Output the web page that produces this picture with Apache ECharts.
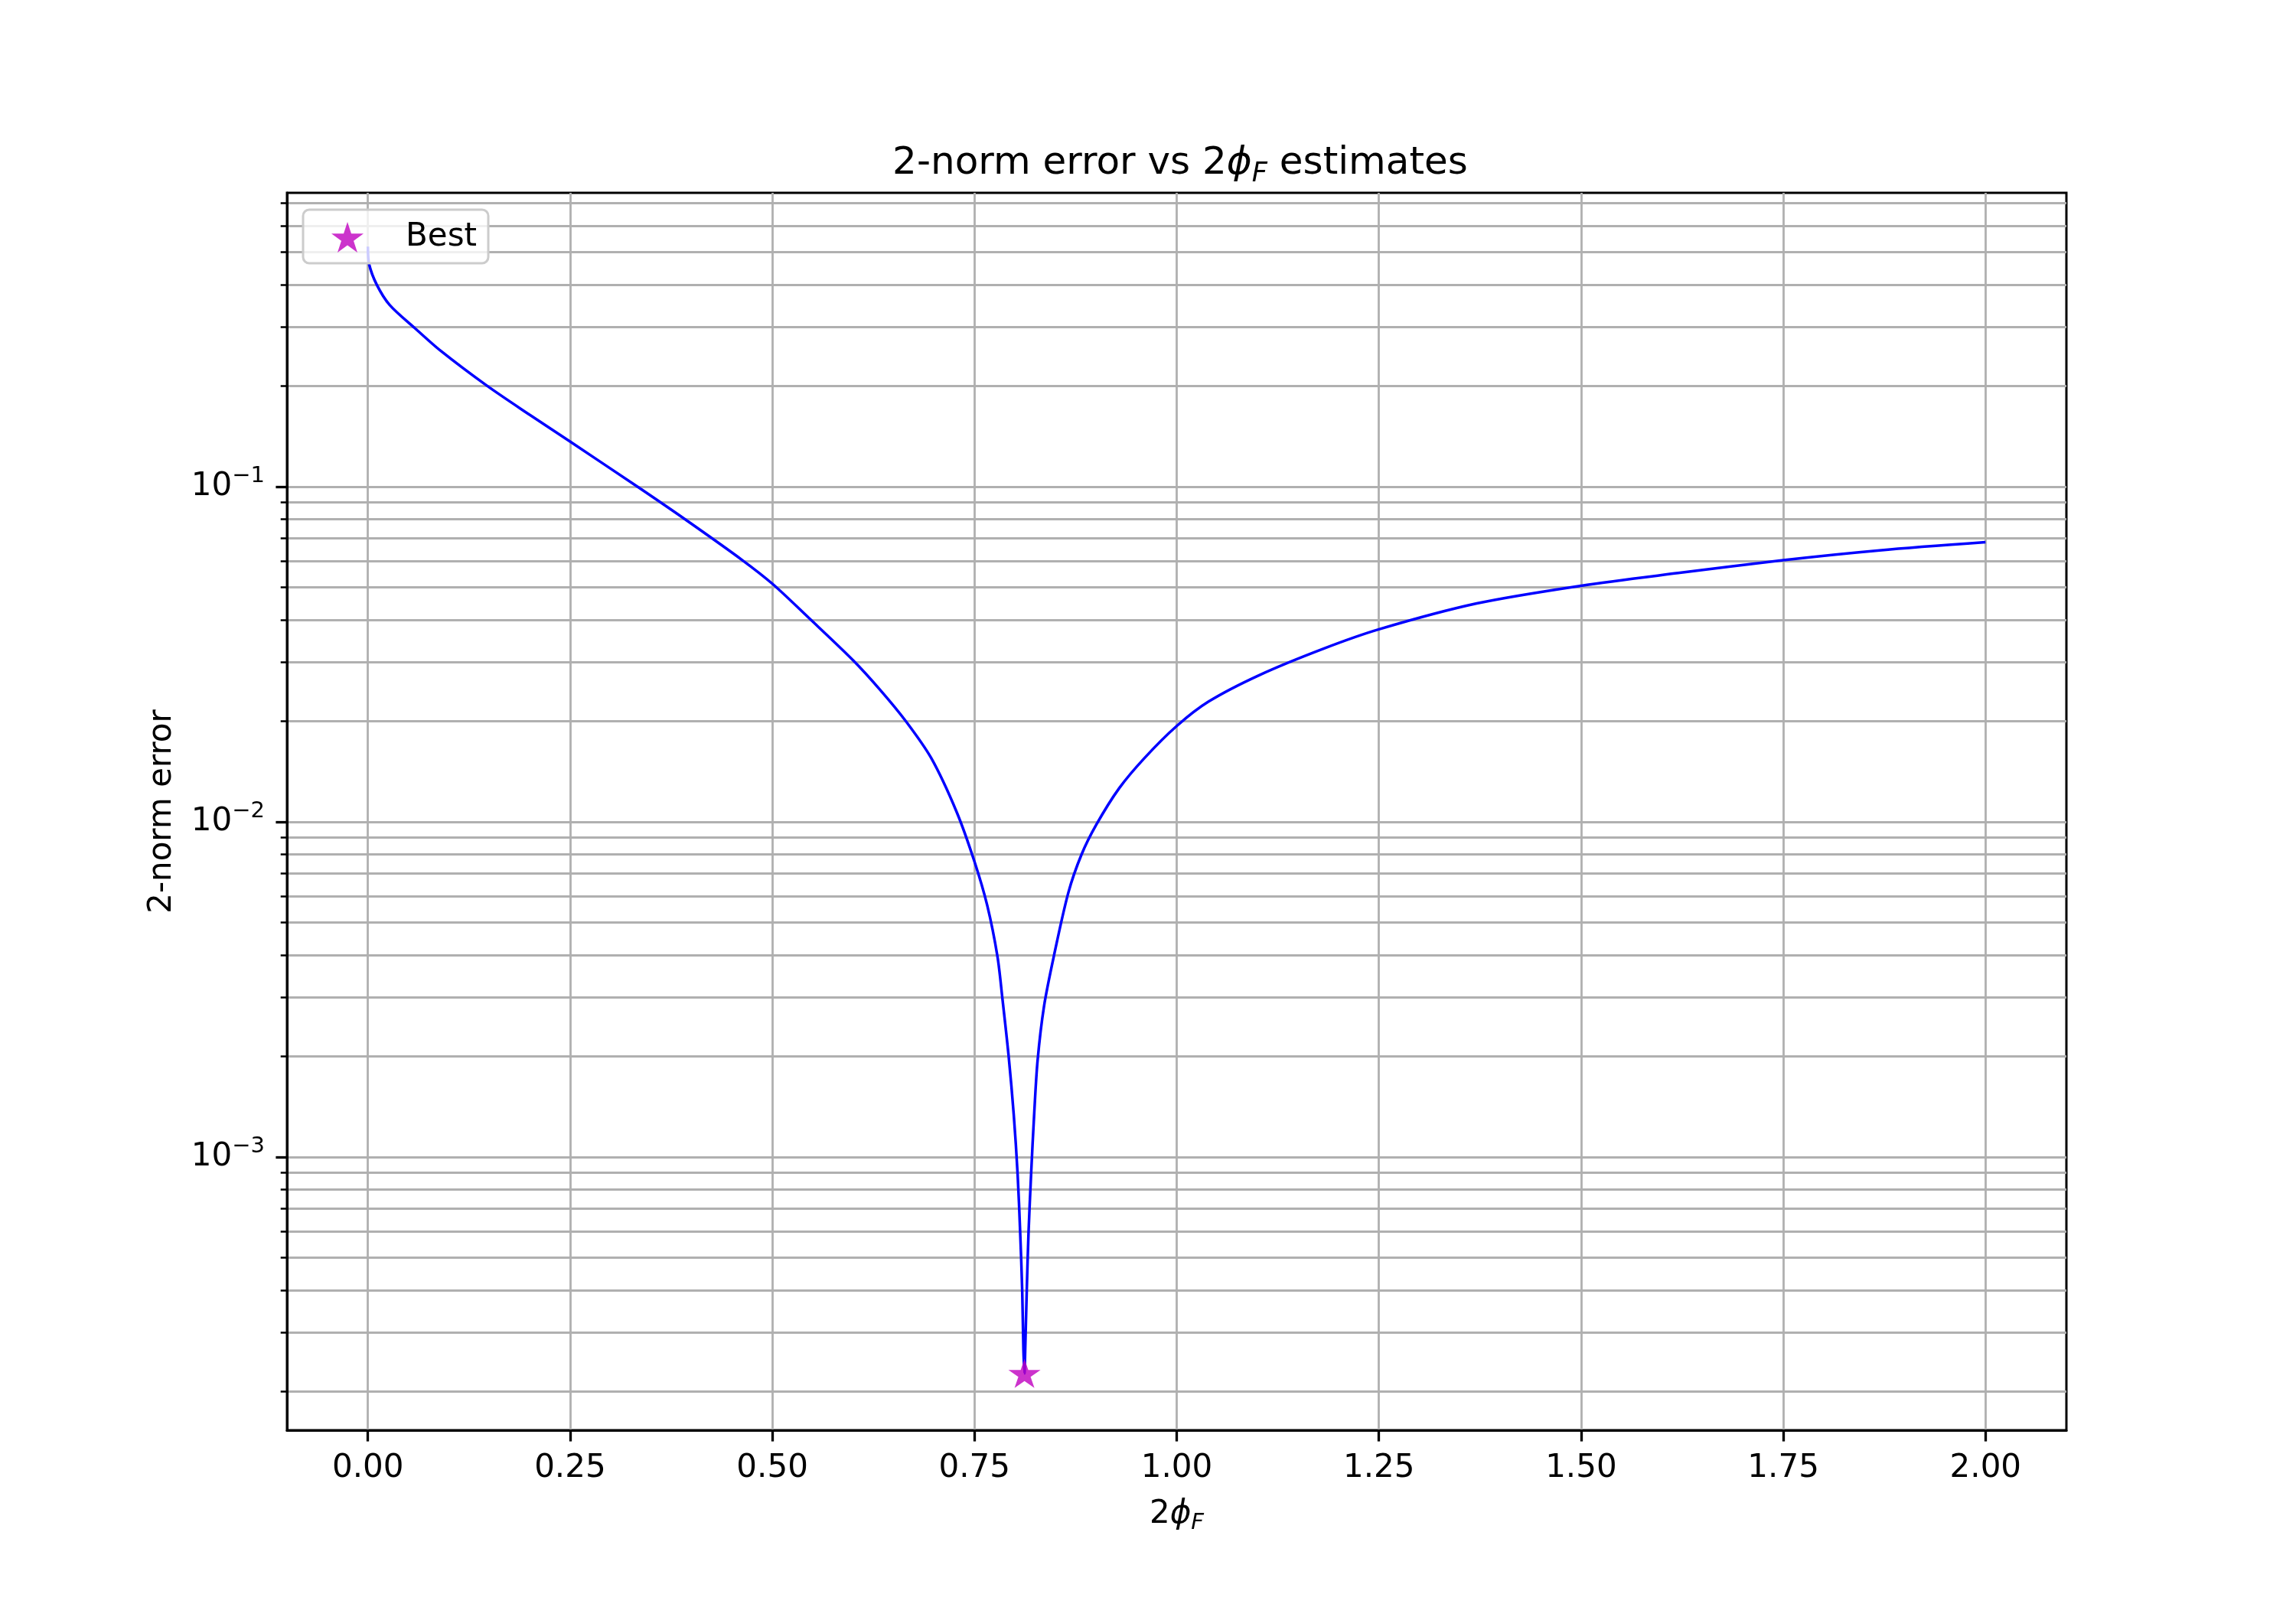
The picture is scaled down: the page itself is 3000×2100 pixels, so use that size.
<!DOCTYPE html>
<html>
<head>
<meta charset="utf-8">
<title>2-norm error vs 2phiF estimates</title>
<script src="https://cdn.jsdelivr.net/npm/echarts@6/dist/echarts.min.js"></script>
<style>
  html, body { margin: 0; padding: 0; background: #ffffff; }
  #chart { width: 3000px; height: 2100px; }
</style>
</head>
<body>
<div id="chart"></div>
<script>
// values
var phiValues = [0, 0.0016, 0.011, 0.027, 0.058, 0.09, 0.147, 0.2, 0.25, 0.333,
  0.391, 0.463, 0.5, 0.545, 0.6, 0.633, 0.6648, 0.6964, 0.7279, 0.75,
  0.7658, 0.7784, 0.7845, 0.7923, 0.7986, 0.8033, 0.8065, 0.809, 0.8105, 0.8118,
  0.8127, 0.8146, 0.8168, 0.82, 0.8237, 0.828, 0.836, 0.848, 0.866, 0.8823,
  0.9006, 0.929, 0.9606, 1.0, 1.0394, 1.1025, 1.181, 1.25, 1.371, 1.5,
  1.62, 1.75, 1.869, 2.0];
var errorValues = [0.52, 0.46, 0.40, 0.348, 0.297, 0.254, 0.2, 0.1637, 0.1362, 0.100,
  0.0802, 0.0603, 0.0513, 0.0406, 0.0303, 0.0248, 0.0200, 0.0155, 0.0107, 0.0076,
  0.00562, 0.00396, 0.00297, 0.00199, 0.00133, 0.00089, 0.000594, 0.000398, 0.000266, 0.000226,
  0.000266, 0.000398, 0.000594, 0.00089, 0.00133, 0.00194, 0.00282, 0.00396, 0.00614, 0.00798,
  0.0098, 0.0126, 0.01553, 0.0193, 0.02283, 0.0274, 0.0328, 0.0375, 0.0448, 0.0506,
  0.0552, 0.0603, 0.0645, 0.0682];
var bestPhi = 0.8118;
var bestError = 0.000226;

var xTicks = [0, 0.25, 0.5, 0.75, 1.0, 1.25, 1.5, 1.75, 2.0];
var yMajorTicks = [0.001, 0.01, 0.1];
var yMinorTicks = [0.0002, 0.0003, 0.0004, 0.0005, 0.0006, 0.0007, 0.0008, 0.0009,
  0.002, 0.003, 0.004, 0.005, 0.006, 0.007, 0.008, 0.009,
  0.02, 0.03, 0.04, 0.05, 0.06, 0.07, 0.08, 0.09,
  0.2, 0.3, 0.4, 0.5, 0.6, 0.7];

var FONT = 'DejaVu Sans';
var STAR = 'path://M0,-100 L22.45,-30.9 L95.11,-30.9 L36.33,11.8 L58.78,80.9 L0,38.2 L-58.78,80.9 L-36.33,11.8 L-95.11,-30.9 L-22.45,-30.9 Z';

var curve = [];
for (var i = 0; i < phiValues.length; i++) {
  curve.push([phiValues[i], errorValues[i]]);
}

var gridLine = { show: true, lineStyle: { color: '#b0b0b0', width: 2.8 } };

var chart = echarts.init(document.getElementById('chart'), null, { renderer: 'canvas' });

var option = {
  backgroundColor: '#ffffff',
  animation: false,
  title: {
    text: '{t|2-norm error vs 2}{p|ϕ}{s|F}{t| estimates}',
    left: 1537,
    top: 178,
    textAlign: 'center',
    textStyle: {
      fontWeight: 'normal',
      rich: {
        t: { fontFamily: FONT, fontSize: 50, fontWeight: 'normal', color: '#000', lineHeight: 62 },
        p: { fontFamily: FONT, fontSize: 50, fontWeight: 'normal', fontStyle: 'italic', color: '#000', lineHeight: 62 },
        s: { fontFamily: FONT, fontSize: 35, fontWeight: 'normal', fontStyle: 'italic', color: '#000', lineHeight: 36, verticalAlign: 'bottom' }
      }
    }
  },
  legend: {
    data: ['Best'],
    left: 396,
    top: 274,
    orient: 'vertical',
    padding: [15, 15, 13, 37],
    itemWidth: 42,
    itemHeight: 40,
    backgroundColor: 'rgba(255,255,255,0.8)',
    borderColor: '#cccccc',
    borderWidth: 3,
    borderRadius: 8,
    textStyle: { fontFamily: FONT, fontSize: 42, color: '#000', padding: [4, 0, 0, 50] }
  },
  grid: {
    left: 375,
    right: 300,
    top: 252,
    bottom: 231,
    show: true,
    borderColor: '#000',
    borderWidth: 3,
    backgroundColor: 'transparent',
    containLabel: false,
    outerBoundsMode: 'none'
  },
  xAxis: {
    type: 'value',
    min: -0.1,
    max: 2.1,
    axisLine: { show: true, onZero: false, lineStyle: { color: '#000', width: 3 } },
    axisTick: { show: true, customValues: xTicks, length: 14.6, lineStyle: { color: '#000', width: 3.3 } },
    axisLabel: {
      customValues: xTicks, margin: 29, color: '#000', fontSize: 42, fontFamily: FONT,
      formatter: function (v) { return v.toFixed(2); }
    },
    splitLine: gridLine,
    name: '{n|2}{p|ϕ}{s|F}',
    nameLocation: 'middle',
    nameGap: 84,
    nameMoveOverlap: false,
    nameTextStyle: {
      rich: {
        n: { fontFamily: FONT, fontSize: 42, color: '#000', lineHeight: 52 },
        p: { fontFamily: FONT, fontSize: 42, fontStyle: 'italic', color: '#000', lineHeight: 52 },
        s: { fontFamily: FONT, fontSize: 29, fontStyle: 'italic', color: '#000', lineHeight: 30, verticalAlign: 'bottom' }
      }
    }
  },
  yAxis: [{
    type: 'log',
    logBase: 10,
    min: 0.000153,
    max: 0.752,
    axisLine: { show: true, onZero: false, lineStyle: { color: '#000', width: 3 } },
    axisTick: { show: true, customValues: yMajorTicks, length: 14.6, lineStyle: { color: '#000', width: 3.3 } },
    axisLabel: {
      customValues: yMajorTicks, margin: 29,
      formatter: function (v) {
        var e = Math.round(Math.log(v) / Math.LN10);
        return '{b|10}{e|' + (e < 0 ? '\u2212' + (-e) : e) + '}';
      },
      rich: {
        b: { fontFamily: FONT, fontSize: 42, color: '#000', lineHeight: 56 },
        e: { fontFamily: FONT, fontSize: 29, color: '#000', lineHeight: 30, verticalAlign: 'top' }
      }
    },
    splitLine: gridLine,
    name: '2-norm error',
    nameLocation: 'middle',
    nameGap: 142,
    nameMoveOverlap: false,
    nameTextStyle: { fontFamily: FONT, fontSize: 42, color: '#000' }
  }, {
    type: 'log',
    logBase: 10,
    min: 0.000153,
    max: 0.752,
    position: 'left',
    axisLine: { show: false, onZero: false },
    axisTick: { show: true, customValues: yMinorTicks, length: 8.3, lineStyle: { color: '#000', width: 2.5 } },
    axisLabel: { show: false },
    splitLine: gridLine
  }],
  series: [{
    type: 'line',
    name: 'error',
    data: curve,
    showSymbol: false,
    symbol: 'none',
    smooth: 0.3,
    lineStyle: { color: '#0000ff', width: 3.5 },
    itemStyle: { color: '#0000ff' },
    z: 3
  }, {
    type: 'scatter',
    name: 'Best',
    data: [[bestPhi, bestError]],
    symbol: STAR,
    symbolSize: [42, 40],
    symbolKeepAspect: true,
    itemStyle: { color: '#bf00bf' },
    z: 4
  }]
};

chart.setOption(option);
</script>
</body>
</html>
